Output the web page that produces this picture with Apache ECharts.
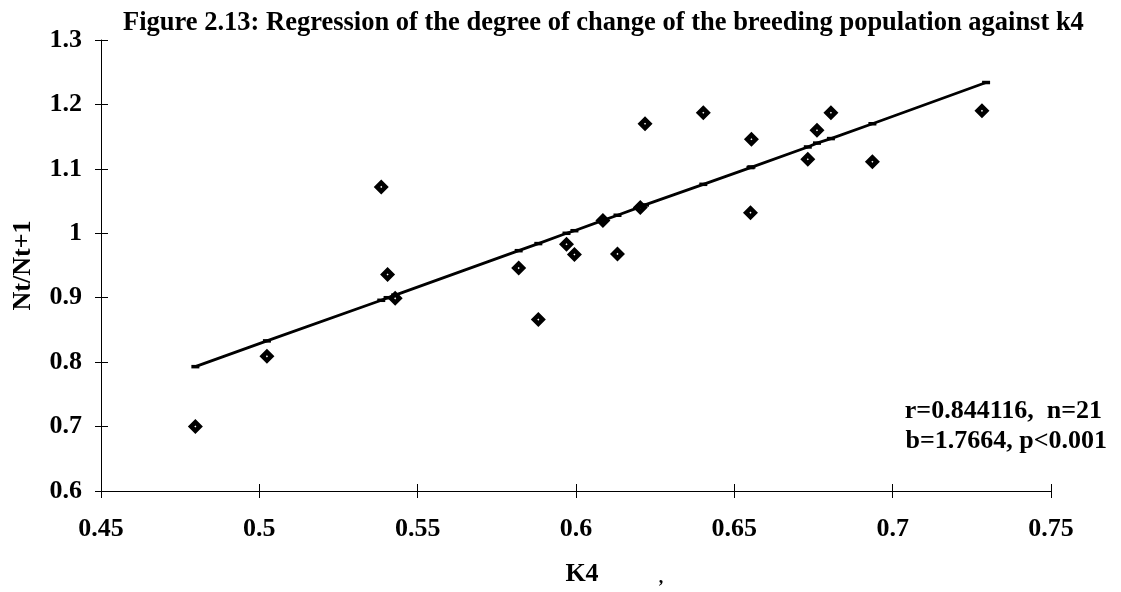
<!DOCTYPE html>
<html>
<head>
<meta charset="utf-8">
<script src="https://cdn.jsdelivr.net/npm/echarts@6/dist/echarts.min.js"></script>
<style>
html,body{margin:0;padding:0;background:#fff;}
#chart{width:1121px;height:592px;}
</style>
</head>
<body>
<div id="chart"></div>
<script>
// Observed points (K4, Nt/Nt+1)
const k4 =    [0.4798, 0.5024, 0.5385, 0.5405, 0.5429, 0.5819, 0.5881, 0.5970, 0.5995, 0.6085, 0.6131, 0.6203, 0.6218, 0.6402, 0.6551, 0.6554, 0.6732, 0.6761, 0.6805, 0.6936, 0.7282];
const ratio = [0.700,  0.809,  1.072,  0.936,  0.899,  0.946,  0.866,  0.983,  0.967,  1.020,  0.968,  1.040,  1.170,  1.187,  1.032,  1.146,  1.115,  1.160,  1.187,  1.111,  1.190];
// Regression line points
const trendK4 =    [0.4798, 0.5024, 0.5385, 0.5405, 0.5429, 0.5819, 0.5881, 0.5970, 0.5995, 0.6085, 0.6131, 0.6203, 0.6218, 0.6402, 0.6551, 0.6554, 0.6732, 0.6761, 0.6805, 0.6936, 0.7295];
const trendRatio = [0.793,  0.833,  0.896,  0.900,  0.904,  0.973,  0.984,  1.000,  1.004,  1.020,  1.028,  1.041,  1.044,  1.076,  1.102,  1.103,  1.134,  1.140,  1.147,  1.170,  1.234];
const titleText = 'Figure 2.13: Regression of the degree of change of the breeding population against k4';
const statsLine1 = 'r=0.844116,  n=21';
const statsLine2 = 'b=1.7664, p<0.001';
const xName = 'K4';
const yName = 'Nt/Nt+1';

const FONT = '"Liberation Serif","Times New Roman",serif';
const chart = echarts.init(document.getElementById('chart'), null, {renderer: 'canvas'});

const pts = k4.map((x, i) => [x, ratio[i]]);
const trend = trendK4.map((x, i) => [x, trendRatio[i]]);

const xBase = {type: 'value', min: 0.45, max: 0.75, interval: 0.05, splitLine: {show: false}};
const yBase = {type: 'value', min: 0.6, max: 1.3, interval: 0.1, splitLine: {show: false}};

chart.setOption({
  animation: false,
  backgroundColor: '#ffffff',
  grid: {left: 101, right: 70, top: 40, bottom: 97, containLabel: false},
  xAxis: [
    Object.assign({}, xBase, {
      position: 'bottom',
      name: xName, nameLocation: 'middle', nameGap: 70,
      nameTextStyle: {fontFamily: FONT, fontWeight: 'bold', fontSize: 26, color: '#000', padding: [0, 0, 0, 12]},
      axisLine: {show: true, lineStyle: {color: '#000', width: 1}},
      axisTick: {show: true, length: 7, lineStyle: {color: '#000'}},
      axisLabel: {fontFamily: FONT, fontWeight: 'bold', fontSize: 26, color: '#000', margin: 25},
    }),
    Object.assign({}, xBase, {
      position: 'bottom',
      axisLine: {show: false},
      axisTick: {show: true, inside: true, length: 7, lineStyle: {color: '#000'}},
      axisLabel: {show: false}
    })
  ],
  yAxis: [
    Object.assign({}, yBase, {
      position: 'left',
      name: yName, nameLocation: 'middle', nameGap: 65, nameRotate: 90,
      nameTextStyle: {fontFamily: FONT, fontWeight: 'bold', fontSize: 26, color: '#000'},
      axisLine: {show: true, lineStyle: {color: '#000', width: 1}},
      axisTick: {show: true, length: 6, lineStyle: {color: '#000'}},
      axisLabel: {fontFamily: FONT, fontWeight: 'bold', fontSize: 26, color: '#000', margin: 19},
    }),
    Object.assign({}, yBase, {
      position: 'left',
      axisLine: {show: false},
      axisTick: {show: true, inside: true, length: 7, lineStyle: {color: '#000'}},
      axisLabel: {show: false}
    })
  ],
  series: [
    {
      type: 'line',
      xAxisIndex: 0, yAxisIndex: 0,
      data: trend,
      showSymbol: true,
      showAllSymbol: true,
      symbol: 'rect',
      symbolSize: [8, 3.5],
      itemStyle: {color: '#000'},
      lineStyle: {color: '#000', width: 2.8},
      z: 2
    },
    {
      type: 'scatter',
      xAxisIndex: 0, yAxisIndex: 0,
      data: pts,
      symbol: 'path://M0,-10 L10,0 L0,10 L-10,0 Z M0,-1.4 L-1.4,0 L0,1.4 L1.4,0 Z',
      symbolSize: 15,
      itemStyle: {color: '#000', opacity: 1},
      z: 3
    }
  ],
  graphic: [
    {
      type: 'text', x: 123, y: 23.5,
      style: {text: titleText, fontFamily: FONT, fontWeight: 'bold', fontSize: 26.5, fill: '#000', align: 'left', verticalAlign: 'middle'}
    },
    {
      type: 'text', x: 1102, y: 411.5,
      style: {text: statsLine1, fontFamily: FONT, fontWeight: 'bold', fontSize: 26, fill: '#000', align: 'right', verticalAlign: 'middle'}
    },
    {
      type: 'text', x: 1107, y: 441.5,
      style: {text: statsLine2, fontFamily: FONT, fontWeight: 'bold', fontSize: 26, fill: '#000', align: 'right', verticalAlign: 'middle'}
    },
    {
      type: 'text', x: 661, y: 578,
      style: {text: ',', fontFamily: FONT, fontWeight: 'bold', fontSize: 18, fill: '#000', align: 'center', verticalAlign: 'middle'}
    }
  ]
});
</script>
</body>
</html>
